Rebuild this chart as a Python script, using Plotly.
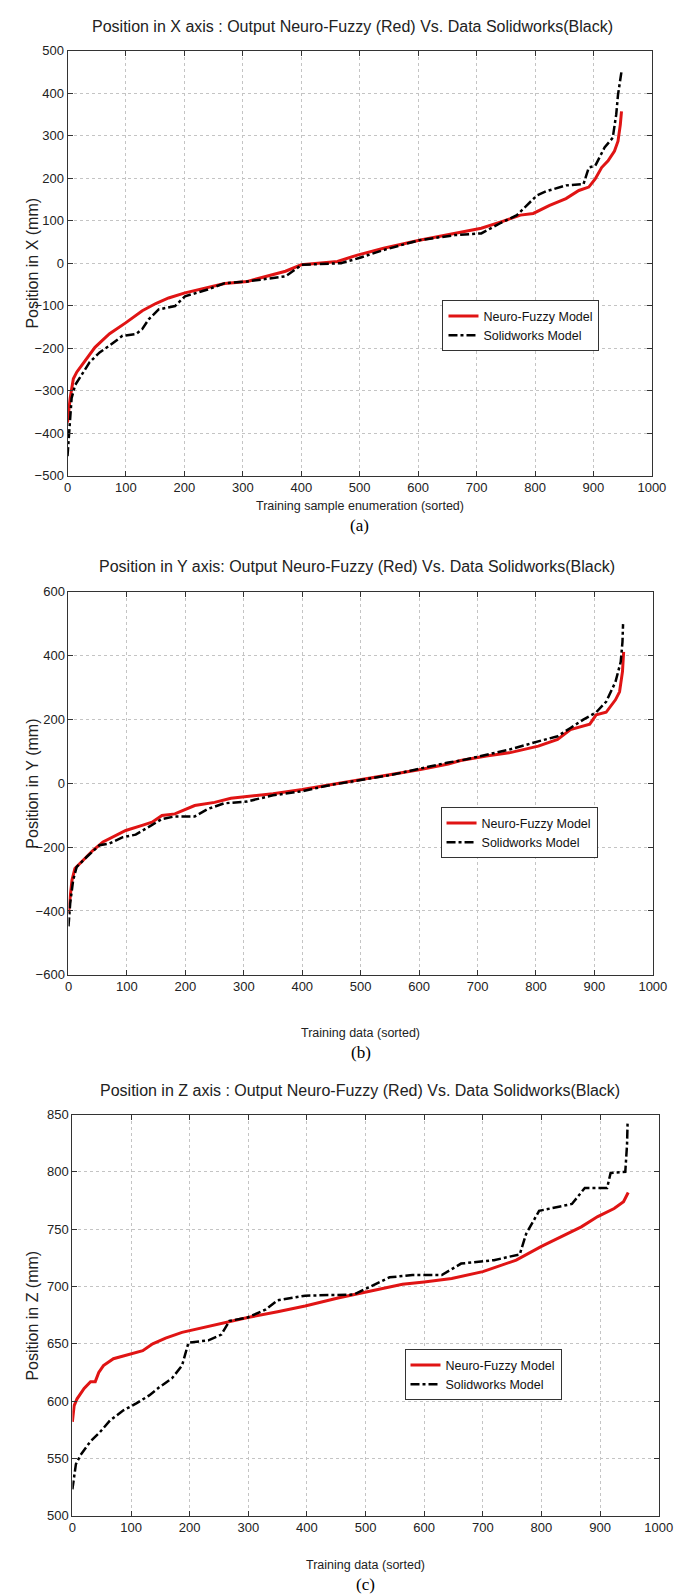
import plotly.graph_objects as go

W, H = 691, 1595

# ---------------- data ----------------
xa_red = [0, 4.5, 10, 16, 24, 38, 47, 61, 72, 100, 128, 151, 173, 201, 240, 269, 308, 373, 400, 462, 496, 541, 602, 663, 708, 742, 775, 797, 825, 853, 875, 892, 903, 914, 925, 936, 942, 946, 948]
ya_red = [-375, -318, -272, -256, -241, -213, -198, -180, -166, -140, -112, -95, -82, -70, -58, -48, -43, -19, -4, 4, 19, 35, 54, 70, 82, 97, 113, 117, 136, 152, 171, 179, 198, 225, 241, 264, 287, 326, 357]
xa_blk = [0, 3, 7, 13, 27, 38, 55, 72, 94, 117, 128, 139, 156, 184, 201, 240, 269, 308, 373, 401, 468, 499, 541, 602, 663, 708, 742, 769, 786, 803, 819, 853, 883, 892, 903, 919, 933, 939, 942, 948]
ya_blk = [-454, -396, -318, -287, -256, -233, -210, -194, -171, -167, -155, -132, -109, -101, -78, -62, -47, -43, -31, -4, 0, 12, 31, 54, 66, 70, 95, 113, 136, 159, 169, 183, 186, 225, 229, 272, 295, 350, 396, 451]

xb_red = [0, 3, 6, 11, 25, 42, 59, 81, 98, 126, 143, 160, 182, 216, 250, 278, 306, 350, 400, 450, 500, 550, 600, 650, 671, 715, 754, 804, 837, 859, 892, 903, 920, 936, 943, 948, 950]
yb_red = [-406, -355, -303, -267, -241, -210, -184, -163, -148, -132, -122, -101, -96, -70, -60, -47, -42, -33, -20, -5, 10, 25, 42, 60, 71, 85, 95, 116, 137, 168, 185, 214, 222, 261, 286, 349, 411]
xb_blk = [0, 3, 8, 14, 31, 53, 70, 93, 115, 137, 160, 182, 216, 238, 266, 306, 350, 400, 450, 500, 550, 600, 650, 671, 715, 754, 804, 837, 859, 881, 903, 920, 936, 945, 948, 949]
yb_blk = [-448, -375, -303, -262, -231, -194, -189, -169, -161, -138, -112, -104, -104, -81, -63, -57, -38, -25, -5, 10, 25, 45, 65, 71, 90, 105, 131, 147, 173, 199, 222, 255, 317, 380, 442, 498]

xc_red = [0, 3, 8, 20, 31, 39, 45, 53, 70, 98, 120, 137, 159, 187, 221, 254, 299, 350, 397, 453, 501, 563, 600, 647, 700, 757, 800, 840, 868, 896, 924, 940, 948]
yc_red = [582, 596, 602, 611, 617, 617, 625, 631, 637, 641, 644, 650, 655, 660, 664, 668, 673, 678, 683, 690, 695, 702, 704, 707, 713, 723, 735, 745, 752, 761, 768, 774, 782]
xc_blk = [0, 6, 14, 31, 47, 64, 87, 109, 131, 148, 170, 187, 198, 232, 254, 268, 299, 330, 350, 397, 480, 508, 541, 580, 630, 663, 719, 763, 774, 785, 796, 852, 874, 912, 918, 943, 946, 947]
yc_blk = [523, 545, 553, 565, 573, 583, 592, 598, 605, 612, 620, 631, 651, 653, 658, 670, 673, 680, 688, 692, 693, 700, 708, 710, 710, 720, 723, 728, 746, 756, 766, 772, 786, 786, 799, 800, 824, 844]

titles = [
    "Position in X axis : Output Neuro-Fuzzy (Red) Vs. Data Solidworks(Black)",
    "Position in Y axis: Output Neuro-Fuzzy (Red) Vs. Data Solidworks(Black)",
    "Position in Z axis : Output Neuro-Fuzzy (Red) Vs. Data Solidworks(Black)",
]
xlabels = ["Training sample enumeration (sorted)", "Training data (sorted)", "Training data (sorted)"]
ylabels = ["Position in X (mm)", "Position in Y (mm)", "Position in Z (mm)"]
captions = ["(a)", "(b)", "(c)"]
x_ticks = [0, 100, 200, 300, 400, 500, 600, 700, 800, 900, 1000]
ya_ticks = [-500, -400, -300, -200, -100, 0, 100, 200, 300, 400, 500]
yb_ticks = [-600, -400, -200, 0, 200, 400, 600]
yc_ticks = [500, 550, 600, 650, 700, 750, 800, 850]
legend_names = ["Neuro-Fuzzy Model", "Solidworks Model"]

# ---------------- layout geometry (pixels) ----------------
NARROW = "Liberation Sans Narrow, Arial Narrow, Liberation Sans, Arial, sans-serif"
SANS = "Liberation Sans, Arial, sans-serif"
SERIF = "Liberation Serif, Times New Roman, serif"

panels = [
    dict(l=57, r=657, t=36, b=465, yt=ya_ticks, rng=[-500, 500], title_x=350, title_y=12, xl_y=496, cap_y=515, leg=(442, 288)),
    dict(l=58, r=658, t=582, b=969, yt=yb_ticks, rng=[-600, 600], title_x=354, title_y=557, xl_y=1028, cap_y=1047, leg=(440, 800)),
    dict(l=62, r=664, t=1110, b=1515, yt=yc_ticks, rng=[500, 850], title_x=357, title_y=1086, xl_y=1565, cap_y=1584, leg=(403, 1347)),
]
series = [(xa_red, ya_red, xa_blk, ya_blk), (xb_red, yb_red, xb_blk, yb_blk), (xc_red, yc_red, xc_blk, yc_blk)]

def px_x(p):
    return p / W

def px_y(p):
    return 1 - p / H

fig = go.Figure()
annotations = []
layout = {}
for i, (p, s) in enumerate(zip(panels, series)):
    k = "" if i == 0 else str(i + 1)
    leg = "legend" + k
    xr, yr, xk, yk = s
    fig.add_trace(go.Scatter(x=xr, y=yr, mode="lines", name=legend_names[0],
                             line=dict(color="#e01414", width=3), xaxis="x" + k, yaxis="y" + k,
                             legend=leg))
    fig.add_trace(go.Scatter(x=xk, y=yk, mode="lines", name=legend_names[1],
                             line=dict(color="black", width=2.5, dash="dashdot"), xaxis="x" + k, yaxis="y" + k,
                             legend=leg))
    axis_common = dict(showline=True, linecolor="#333333", linewidth=1, mirror="ticks",
                       ticks="inside", ticklen=5, tickcolor="#333333",
                       showgrid=True, gridcolor="#c4c4c4", griddash="dot", gridwidth=1,
                       zeroline=False, tickfont=dict(family=NARROW, size=13, color="#222222"))
    layout["xaxis" + k] = dict(axis_common, domain=[px_x(p["l"]), px_x(p["r"])], range=[0, 1000],
                               tickvals=x_ticks, anchor="y" + k)
    layout["yaxis" + k] = dict(axis_common, domain=[px_y(p["b"]), px_y(p["t"])], range=p["rng"],
                               tickvals=p["yt"], anchor="x" + k)
    layout[leg] = dict(x=px_x(p["leg"][0]), y=px_y(p["leg"][1]), xanchor="left", yanchor="top",
                       bgcolor="white", bordercolor="#333333", borderwidth=1, itemwidth=30,
                       font=dict(family=NARROW, size=12.5, color="#111111"), tracegroupgap=0)
    cx = (p["l"] + p["r"]) / 2
    annotations.append(dict(text=titles[i], x=px_x(p["title_x"]), y=px_y(p["title_y"]), xref="paper", yref="paper",
                            showarrow=False, xanchor="center", yanchor="middle",
                            font=dict(family=NARROW, size=16, color="#222222")))
    annotations.append(dict(text=xlabels[i], x=px_x(cx), y=px_y(p["xl_y"]), xref="paper", yref="paper",
                            showarrow=False, xanchor="center", yanchor="middle",
                            font=dict(family=NARROW, size=12.5, color="#222222")))
    annotations.append(dict(text=ylabels[i], x=px_x(21), y=px_y((p["t"] + p["b"]) / 2), xref="paper", yref="paper",
                            showarrow=False, xanchor="center", yanchor="middle", textangle=-90,
                            font=dict(family=SANS, size=16, color="#222222")))
    annotations.append(dict(text=captions[i], x=px_x(cx), y=px_y(p["cap_y"]), xref="paper", yref="paper",
                            showarrow=False, xanchor="center", yanchor="middle",
                            font=dict(family=SERIF, size=17, color="black")))

fig.update_layout(width=W, height=H, margin=dict(l=0, r=0, t=0, b=0),
                  paper_bgcolor="white", plot_bgcolor="white", annotations=annotations, **layout)
fig.write_html("out.html")
